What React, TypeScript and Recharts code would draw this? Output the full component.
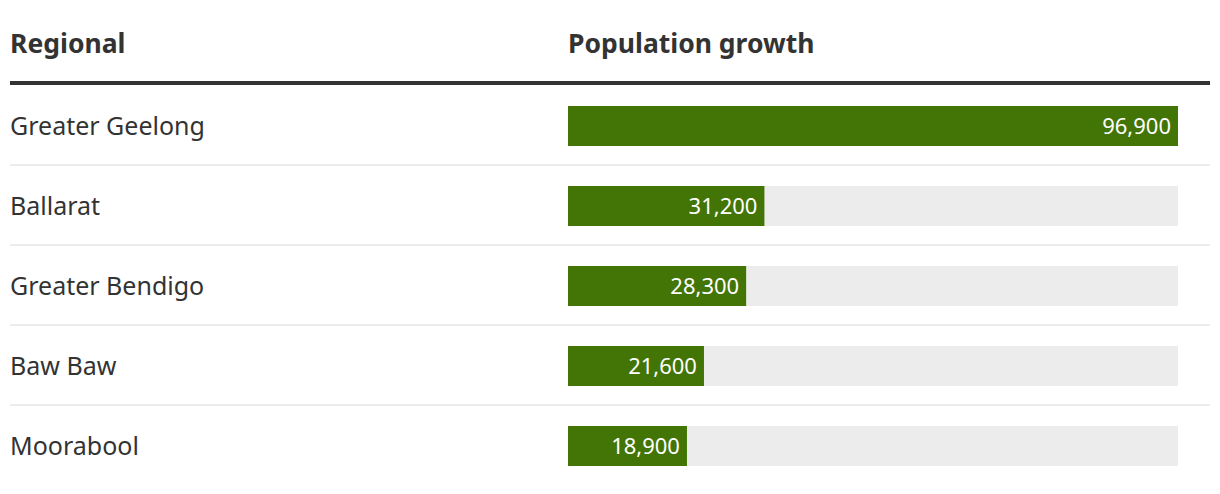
import { BarChart, Bar, XAxis, YAxis, LabelList } from "recharts";

const regions = ["Greater Geelong", "Ballarat", "Greater Bendigo", "Baw Baw", "Moorabool"];
const growth = [96900, 31200, 28300, 21600, 18900];

const data = regions.map((name, i) => ({ name, growth: growth[i] }));

const FONT = "'Noto Sans', 'Open Sans', sans-serif";
const GREEN = "#427505";

function RowLabel(props: any) {
  const { y, payload } = props;
  return (
    <text x={10} y={y} dy="0.35em" textAnchor="start" fontSize={25} fill="#333" fontFamily={FONT}>
      {payload.value}
    </text>
  );
}

function RowBackground(props: any) {
  const { x, y, width, height, index } = props;
  return (
    <g>
      <rect x={x} y={y} width={width} height={height} fill="#ececec" />
      {index < regions.length - 1 && (
        <rect x={10} y={y + height + 18} width={1200} height={2} fill="#ececec" />
      )}
    </g>
  );
}

export default function App() {
  return (
    <div
      style={{
        position: "absolute",
        left: 0,
        top: 0,
        width: 1220,
        height: 494,
        background: "#fff",
        fontFamily: FONT,
      }}
    >
      <div style={{ position: "absolute", left: 10, top: 25, fontSize: 26.5, fontWeight: 700, color: "#333" }}>
        Regional
      </div>
      <div style={{ position: "absolute", left: 568, top: 25, fontSize: 26.5, fontWeight: 700, color: "#333" }}>
        Population growth
      </div>
      <div style={{ position: "absolute", left: 10, top: 81, width: 1200, height: 4, background: "#333" }} />
      <div style={{ position: "absolute", left: 0, top: 0 }}>
        <BarChart
          width={1220}
          height={494}
          data={data}
          layout="vertical"
          margin={{ top: 86, right: 42, bottom: 8, left: 10 }}
        >
          <XAxis type="number" domain={[0, 96900]} hide />
          <YAxis
            type="category"
            dataKey="name"
            width={558}
            axisLine={false}
            tickLine={false}
            tick={<RowLabel />}
          />
          <Bar
            dataKey="growth"
            fill={GREEN}
            barSize={40}
            isAnimationActive={false}
            background={(p: any) => <RowBackground {...p} />}
          >
            <LabelList
              dataKey="growth"
              position="insideRight"
              offset={7}
              fill="#fff"
              fontSize={22}
              fontFamily={FONT}
              formatter={(v: any) => Number(v).toLocaleString("en-US")}
            />
          </Bar>
        </BarChart>
      </div>
    </div>
  );
}
